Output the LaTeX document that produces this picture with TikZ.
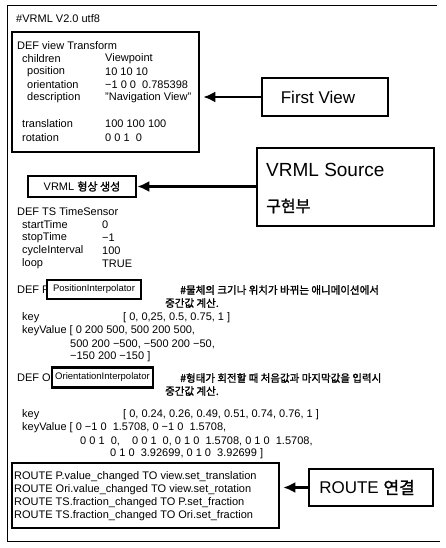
\documentclass[tikz,border=0pt]{standalone}
\usepackage{fontspec}
\setmainfont{Liberation Sans}
\newfontfamily\kr{Noto Sans CJK KR}
\newfontfamily\krb[FakeBold=1.5]{Noto Sans CJK KR}
\usetikzlibrary{arrows.meta}
\tikzset{
  txt/.style={anchor=west, inner sep=0pt, font=\fontsize{11}{13}\selectfont},
  ktxt/.style={anchor=west, inner sep=0pt, font=\krb\fontsize{10.5}{12}\selectfont},
  bigtxt/.style={anchor=west, inner sep=0pt, font=\fontsize{19}{21}\selectfont},
  thickbox/.style={draw, line width=2.6pt, inner sep=0pt},
  labelbox/.style={draw, line width=1.6pt, inner sep=0pt},
  labeltxt/.style={inner sep=0pt, font=\fontsize{17}{19}\selectfont},
  arr/.style={line width=2.3pt, -{Latex[length=12pt,width=11pt]}}
}
\begin{document}
\begin{tikzpicture}[x=1pt,y=-1pt]
\useasboundingbox (0,0) rectangle (445,548);
% outer frame
\draw[line width=0.9pt] (437,5) -- (7,5) -- (7,541) -- (440,541);

\node[txt] (hdr) at (16,19) {\#VRML V2.0 utf8};

% view transform box
\node[thickbox, minimum width=187pt, minimum height=120pt] (viewbox) at (105.5,92) {};
\node[txt] (l1) at (17,46) {DEF view Transform};
\node[txt] (l2) at (22,59) {children};
\node[txt] (v2) at (105,59) {Viewpoint};
\node[txt] (l3) at (27,72) {position};
\node[txt] (v3) at (105,72) {10 10 10};
\node[txt] (l4) at (27,85) {orientation};
\node[txt] (v4) at (105,85) {−1 0 0~~0.785398};
\node[txt] (l5) at (27,98) {description};
\node[txt] (v5) at (105,98) {"Navigation View"};
\node[txt] (l6) at (22,124) {translation};
\node[txt] (v6) at (105,124) {100 100 100};
\node[txt] (l7) at (22,138) {rotation};
\node[txt] (v7) at (105,138) {0 0 1~~0};

% First View
\node[labelbox, minimum width=126pt, minimum height=38pt] (first) at (325,97) {};
\node[labeltxt] (firstt) at (318,97) {First View};
\draw[arr] (first.west) -- ([xshift=3pt]viewbox.east |- first.west);

% VRML Source
\node[draw, line width=1.2pt, minimum width=177pt, minimum height=78pt] (src) at (345.5,187) {};
\node[bigtxt] (srct) at (266,170) {VRML Source};
\node[anchor=west, inner sep=0pt, font=\krb\fontsize{16}{18}\selectfont] (srck) at (266,206) {구현부};

% VRML shape box
\node[thickbox, minimum width=108pt, minimum height=21pt, font=\fontsize{11}{12}\selectfont] (shape) at (82,186.5) {VRML {\krb 형상 생성}};
\draw[arr] (src.west |- shape.east) -- (shape.east);

% TimeSensor
\node[txt] (t1) at (17,212) {DEF TS TimeSensor};
\node[txt] (t2) at (22,225) {startTime};
\node[txt] (tv2) at (102,225) {0};
\node[txt] (t3) at (22,238) {stopTime};
\node[txt] (tv3) at (102,238) {−1};
\node[txt] (t4) at (22,251) {cycleInterval};
\node[txt] (tv4) at (102,251) {100};
\node[txt] (t5) at (22,264) {loop};
\node[txt] (tv5) at (102,264) {TRUE};

% Position interpolator
\node[txt] (p0) at (17,290) {DEF P};
\node[thickbox, fill=white, minimum width=94pt, minimum height=19pt, font=\fontsize{9.5}{11}\selectfont] (pbox) at (94,289.5) {PositionInterpolator};
\node[ktxt] (pc1) at (180,290) {\#물체의 크기나 위치가 바뀌는 애니메이션에서};
\node[ktxt] (pc2) at (165,303) {중간값 계산.};
\node[txt] (pk) at (22,318) {key};
\node[txt] (pkv) at (123,318) {[ 0, 0,25, 0.5, 0.75, 1 ]};
\node[txt] (pv1) at (22,331) {keyValue [ 0 200 500, 500 200 500,};
\node[txt] (pv2) at (70,344) {500 200 −500, −500 200 −50,};
\node[txt] (pv3) at (70,357) {−150 200 −150 ]};

% Orientation interpolator
\node[txt] (o0) at (17,378) {DEF Or};
\node[thickbox, fill=white, minimum width=101pt, minimum height=20pt, font=\fontsize{9.5}{11}\selectfont] (obox) at (102.5,377.5) {OrientationInterpolator};
\node[ktxt] (oc1) at (180,378) {\#형태가 회전할 때 처음값과 마지막값을 입력시};
\node[ktxt] (oc2) at (165,391) {중간값 계산.};
\node[txt] (ok) at (22,415) {key};
\node[txt] (okv) at (123,415) {[ 0, 0.24, 0.26, 0.49, 0.51, 0.74, 0.76, 1 ]};
\node[txt] (ov1) at (22,428) {keyValue [ 0 −1 0~~1.5708, 0 −1 0~~1.5708,};
\node[txt] (ov2) at (80,441) {0 0 1~~0,~~~~0 0 1~~0, 0 1 0~~1.5708, 0 1 0~~1.5708,};
\node[txt] (ov3) at (110,454) {0 1 0~~3.92699, 0 1 0~~3.92699 ]};

% ROUTE box
\node[thickbox, minimum width=267pt, minimum height=65pt] (routebox) at (145.5,495.5) {};
\node[txt] (r1) at (14,477) {ROUTE P.value\_changed TO view.set\_translation};
\node[txt] (r2) at (14,490) {ROUTE Ori.value\_changed TO view.set\_rotation};
\node[txt] (r3) at (14,503) {ROUTE TS.fraction\_changed TO P.set\_fraction};
\node[txt] (r4) at (14,516) {ROUTE TS.fraction\_changed TO Ori.set\_fraction};

\node[labelbox, minimum width=124pt, minimum height=37pt] (route) at (371,487.5) {};
\node[labeltxt] (routet) at (367,487.5) {ROUTE {\krb 연결}};
\draw[arr] (route.west) -- ([xshift=3pt]routebox.east |- route.west);
\end{tikzpicture}
\end{document}
